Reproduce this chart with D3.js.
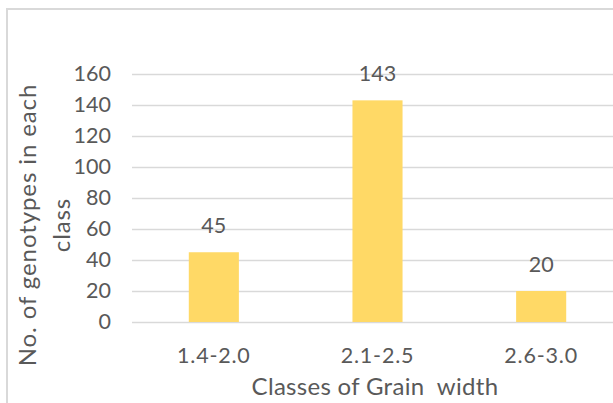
<!DOCTYPE html>
<html>
<head>
<meta charset="utf-8">
<script src="https://cdn.jsdelivr.net/npm/d3@7"></script>
<style>
  body { margin: 0; background: #fff; }
  text { font-family: Lato, "Open Sans", sans-serif; fill: #595959; }
</style>
</head>
<body>
<script>
var classes = ["1.4-2.0", "2.1-2.5", "2.6-3.0"];
var genotypes = [45, 143, 20];
var yTicks = [0, 20, 40, 60, 80, 100, 120, 140, 160];

var width = 613,
    height = 403,
    fontSize = 21.5,
    titleSize = 24;

function main(){
  var svg = d3.select("body")
            .append("svg")
            .attr("width", width)
            .attr("height", height);

  // chart frame, runs off the right and bottom edge like in the screenshot
  svg.append("rect")
    .attr("x", 7)
    .attr("y", 9)
    .attr("width", width + 20)
    .attr("height", height + 20)
    .attr("fill", "#fff")
    .attr("stroke", "#d9d9d9")
    .attr("stroke-width", 2);

  var x = d3.scaleBand()
            .domain(classes)
            .range([132, 623])
            .paddingInner(0.694)
            .paddingOuter(0.347);

  var y = d3.scaleLinear()
            .domain([0, 160])
            .range([322, 74]);

  // gridlines
  var yAxis = d3.axisLeft(y)
            .tickValues(yTicks)
            .tickSize(-(width - 132))
            .tickPadding(21);

  var gy = svg.append("g")
            .attr("transform", "translate(132,0)")
            .call(yAxis);
  gy.select(".domain").remove();
  gy.selectAll(".tick line")
    .attr("stroke", "#d9d9d9")
    .attr("stroke-width", 1.6);
  gy.selectAll(".tick text")
    .attr("font-size", fontSize)
    .attr("font-family", null)
    .attr("fill", null);

  // bars
  svg.selectAll("rect.bar")
    .data(genotypes)
    .enter()
    .append("rect")
    .attr("class", "bar")
    .attr("x", function(d, i) { return x(classes[i]); })
    .attr("y", function(d) { return y(d); })
    .attr("width", x.bandwidth())
    .attr("height", function(d) { return y(0) - y(d); })
    .attr("fill", "#ffd966");

  // value labels
  svg.selectAll("text.val")
    .data(genotypes)
    .enter()
    .append("text")
    .attr("class", "val")
    .attr("x", function(d, i) { return x(classes[i]) + x.bandwidth() / 2; })
    .attr("y", function(d) { return y(d) - 19; })
    .attr("text-anchor", "middle")
    .attr("font-size", fontSize)
    .text(function(d) { return d; });

  // category axis
  var xAxis = d3.axisBottom(x).tickSize(0).tickPadding(26);
  var gx = svg.append("g")
            .attr("transform", "translate(0,322)")
            .call(xAxis);
  gx.select(".domain").remove();
  gx.selectAll(".tick text")
    .attr("font-size", fontSize)
    .attr("letter-spacing", 0.8)
    .attr("font-family", null)
    .attr("fill", null);

  // axis titles
  svg.append("text")
    .attr("x", 375)
    .attr("y", 395)
    .attr("text-anchor", "middle")
    .attr("font-size", titleSize)
    .attr("letter-spacing", 0.3)
    .style("white-space", "pre")
    .text("Classes of Grain  width");

  var yt = svg.append("text")
    .attr("transform", "translate(0,225) rotate(-90)")
    .attr("text-anchor", "middle")
    .attr("font-size", titleSize)
    .attr("letter-spacing", 0.9);
  yt.append("tspan")
    .attr("x", 0)
    .attr("y", 36)
    .text("No. of genotypes in each");
  yt.append("tspan")
    .attr("x", 0)
    .attr("y", 70)
    .text("class");
}

main();
</script>
</body>
</html>
